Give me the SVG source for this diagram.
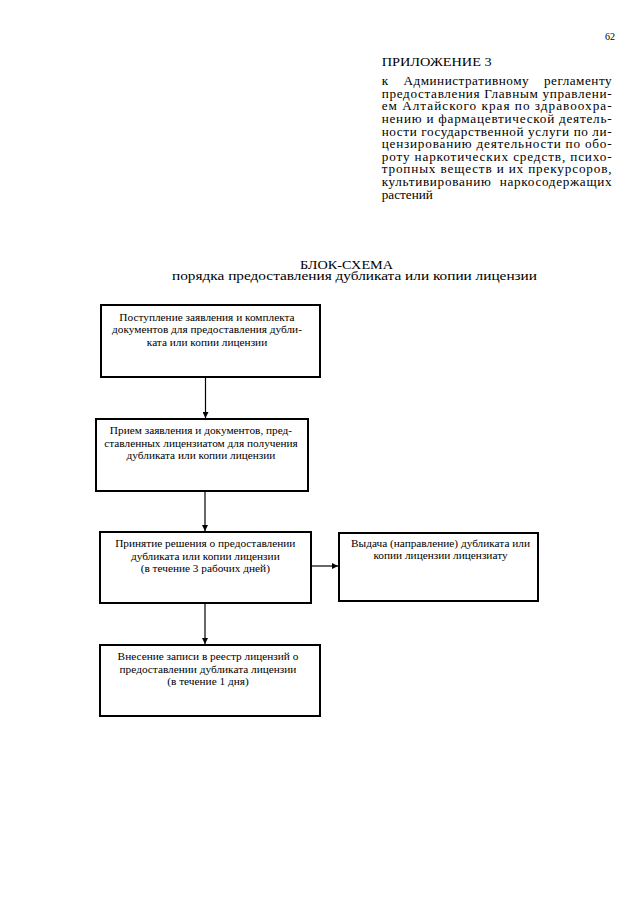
<svg xmlns="http://www.w3.org/2000/svg" width="640" height="905" viewBox="0 0 640 905">
<defs>
<style>
text{font-family:"Liberation Serif","Times New Roman",serif;fill:#000}
.hdr{font-size:12px}
.bx{font-size:11.3px;text-anchor:middle}
.box{fill:#fff;stroke:#000;stroke-width:2}
.con{stroke:#000;stroke-width:1.2;fill:none}
</style>
<marker id="ah" viewBox="0 0 10 10" refX="10" refY="5" markerWidth="6" markerHeight="6" markerUnits="userSpaceOnUse" orient="auto">
<path d="M0,0 L10,5 L0,10 Z" fill="#000"/>
</marker>
</defs>
<rect width="640" height="905" fill="#fff"/>
<text x="615" y="40" font-size="11" text-anchor="end" textLength="10" lengthAdjust="spacingAndGlyphs">62</text>
<text x="381.7" y="65.7" font-size="12" textLength="110" lengthAdjust="spacingAndGlyphs">ПРИЛОЖЕНИЕ 3</text>
<g class="hdr" transform="matrix(1.1,0,0,1,381.7,0)">
<text x="0" y="85.3" textLength="209" lengthAdjust="spacing" word-spacing="10">к Административному регламенту</text>
<text x="0" y="97.9" textLength="209" lengthAdjust="spacing">предоставления Главным управлени-</text>
<text x="0" y="110.5" textLength="209" lengthAdjust="spacing">ем Алтайского края по здравоохра-</text>
<text x="0" y="123.1" textLength="209" lengthAdjust="spacing">нению и фармацевтической деятель-</text>
<text x="0" y="135.7" textLength="209" lengthAdjust="spacing">ности государственной услуги по ли-</text>
<text x="0" y="148.3" textLength="209" lengthAdjust="spacing">цензированию деятельности по обо-</text>
<text x="0" y="160.9" textLength="209" lengthAdjust="spacing">роту наркотических средств, психо-</text>
<text x="0" y="173.5" textLength="209" lengthAdjust="spacing">тропных веществ и их прекурсоров,</text>
<text x="0" y="186.1" textLength="209" lengthAdjust="spacing" word-spacing="4">культивированию наркосодержащих</text>
<text x="0" y="198.7">растений</text>
</g>
<text x="300" y="268.5" font-size="11.5" textLength="93" lengthAdjust="spacingAndGlyphs">БЛОК-СХЕМА</text>
<text x="172" y="279.5" font-size="11.5" textLength="365" lengthAdjust="spacingAndGlyphs">порядка предоставления дубликата или копии лицензии</text>
<g id="connectors">
<line class="con" x1="205.5" y1="377" x2="205.5" y2="418" marker-end="url(#ah)"/>
<line class="con" x1="205" y1="491" x2="205" y2="531" marker-end="url(#ah)"/>
<line class="con" x1="311" y1="566" x2="338" y2="566" marker-end="url(#ah)"/>
<line class="con" x1="205" y1="603" x2="205" y2="644" marker-end="url(#ah)"/>
</g>
<g id="n1">
<rect class="box" x="101" y="305" width="219" height="72"/>
<text class="bx" x="207" y="320.5">Поступление заявления и комплекта</text>
<text class="bx" x="207" y="333">документов для предоставления дубли-</text>
<text class="bx" x="207" y="345.5">ката или копии лицензии</text>
</g>
<g id="n2">
<rect class="box" x="96" y="419" width="212" height="72"/>
<text class="bx" x="201" y="434.3">Прием заявления и документов, пред-</text>
<text class="bx" x="201" y="446.8">ставленных лицензиатом для получения</text>
<text class="bx" x="201" y="459.3">дубликата или копии лицензии</text>
</g>
<g id="n3">
<rect class="box" x="100" y="532" width="211" height="71"/>
<text class="bx" x="205.3" y="547.3">Принятие решения о предоставлении</text>
<text class="bx" x="205.3" y="559.8">дубликата или копии лицензии</text>
<text class="bx" x="205.3" y="572.3">(в течение 3 рабочих дней)</text>
</g>
<g id="n4">
<rect class="box" x="339" y="533" width="199" height="68"/>
<text class="bx" x="440.5" y="546.7">Выдача (направление) дубликата или</text>
<text class="bx" x="440.5" y="559.2">копии лицензии лицензиату</text>
</g>
<g id="n5">
<rect class="box" x="100" y="645" width="220" height="71"/>
<text class="bx" x="208" y="660">Внесение записи в реестр лицензий о</text>
<text class="bx" x="208" y="672.5">предоставлении дубликата лицензии</text>
<text class="bx" x="208" y="685">(в течение 1 дня)</text>
</g>
</svg>
